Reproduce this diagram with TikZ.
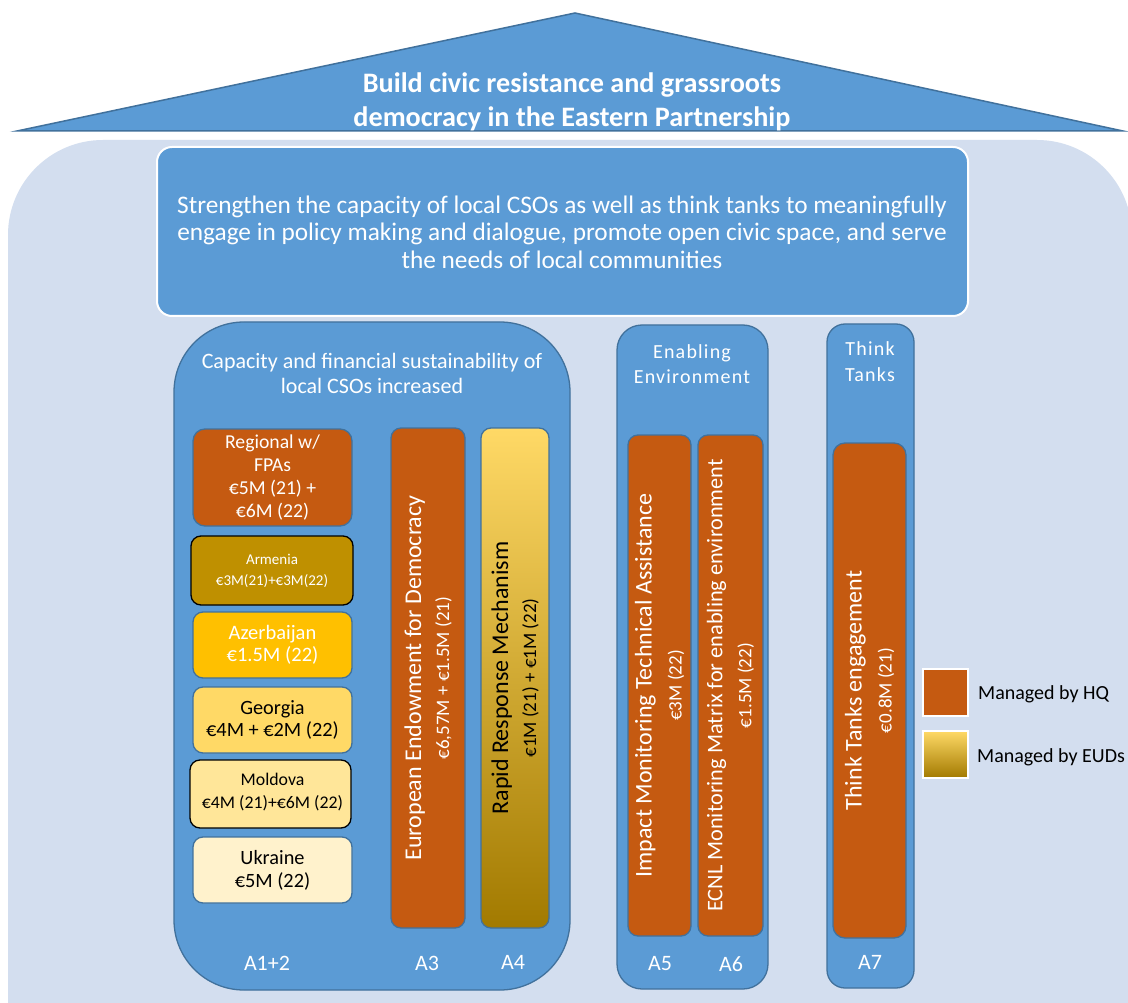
\documentclass[tikz,border=0pt]{standalone}
\usepackage{fontspec}
\setmainfont{Carlito}
\newfontfamily\spacedfont[LetterSpace=6]{Carlito}
\definecolor{blu}{HTML}{5B9BD5}
\definecolor{bord}{HTML}{41719C}
\definecolor{bgc}{HTML}{D3DEEF}
\definecolor{org}{HTML}{C55A11}
\definecolor{dgold}{HTML}{BF9000}
\definecolor{gold}{HTML}{FFC000}
\definecolor{yel}{HTML}{FFD966}
\definecolor{lyel}{HTML}{FFE699}
\definecolor{pale}{HTML}{FFF2CC}
\definecolor{olive}{HTML}{A27A00}
\newcommand{\fs}[2]{\fontsize{#1}{#2}\selectfont}
\begin{document}
\begin{tikzpicture}[x=1pt,y=-1pt,
  rbox/.style={anchor=north west, inner sep=0pt, outer sep=0pt, line width=1.3pt},
  panel/.style={rbox, fill=blu, draw=bord},
  txt/.style={align=center, inner sep=0pt},
  wtxt/.style={txt, text=white},
  alabel/.style={wtxt, font=\fs{22}{24}},
  eudshade/.style={top color=yel, middle color=gold, bottom color=olive}
]
\useasboundingbox (0,0) rectangle (1128,1003);
\fill[white] (0,0) rectangle (1128,1003);
% background
\fill[bgc, rounded corners=95] (8,140) rectangle (1132,1100);
% roof
\draw[fill=blu, draw=bord, line width=1.5pt] (575,13) -- (1123,131) -- (17,131) -- cycle;
\node[wtxt, font=\bfseries\fs{28.2}{34}] (goal) at (572,102) {Build civic resistance and grassroots\\democracy in the Eastern Partnership};
% objective box
\node[rbox, fill=blu, draw=white, line width=2pt, rounded corners=15, minimum width=811pt, minimum height=169pt] (obj) at (157,147) {};
\node[wtxt, font=\fs{25.3}{27.5}] (objt) at (562,232) {Strengthen the capacity of local CSOs as well as think tanks to meaningfully\\engage in policy making and dialogue, promote open civic space, and serve\\the needs of local communities};
% left panel
\node[panel, rounded corners=70, minimum width=396pt, minimum height=668pt] (p1) at (174,322) {};
\node[wtxt, font=\fs{22}{25}] (p1t) at (372,373) {Capacity and financial sustainability of\\local CSOs increased};
% left boxes
\node[rbox, fill=org, draw=bord, rounded corners=12, minimum width=159pt, minimum height=97pt] (reg) at (193,429) {};
\node[wtxt, font=\fs{19.7}{23.2}] at (reg.center) {Regional w/\\FPAs\\€5M (21) +\\€6M (22)};
\node[rbox, fill=dgold, draw=black, rounded corners=10, minimum width=162pt, minimum height=69pt] (arm) at (191,536) {};
\node[wtxt, font=\fs{15}{21}] at (arm.center) {Armenia\\€3M(21)+€3M(22)};
\node[rbox, fill=gold, draw=bord, rounded corners=10, minimum width=159pt, minimum height=66pt] (aze) at (193,612) {};
\node[wtxt, font=\fs{20.5}{22.5}] at (aze.center) {Azerbaijan\\€1.5M (22)};
\node[rbox, fill=yel, draw=bord, rounded corners=10, minimum width=159pt, minimum height=66pt] (geo) at (193,687) {};
\node[txt, font=\fs{20.3}{22}] at (geo.center) {Georgia\\€4M + €2M (22)};
\node[rbox, fill=lyel, draw=black, rounded corners=10, minimum width=161pt, minimum height=68pt] (mol) at (190,760) {};
\node[txt, font=\fs{17.8}{23}] at ([xshift=2pt,yshift=2pt]mol.center) {Moldova\\€4M (21)+€6M (22)};
\node[rbox, fill=pale, draw=bord, rounded corners=10, minimum width=159pt, minimum height=66pt] (ukr) at (193,837) {};
\node[txt, font=\fs{20.3}{23}] at (ukr.center) {Ukraine\\€5M (22)};
% A3, A4
\node[rbox, fill=org, draw=bord, rounded corners=10, minimum width=74pt, minimum height=500pt] (a3) at (391,428) {};
\node[wtxt, rotate=90, font=\fs{19}{28}] at (a3.center) {\fs{24}{28}European Endowment for Democracy\\\fs{19}{28}€6,57M + €1.5M (21)};
\node[rbox, eudshade, draw=bord, rounded corners=10, minimum width=68pt, minimum height=500pt] (a4) at (481,428) {};
\node[txt, rotate=90, font=\fs{19}{28}] at (a4.center) {\fs{24}{28}Rapid Response Mechanism\\\fs{19}{28}€1M (21) + €1M (22)};
\node[alabel] (l12) at (267,963) {A1+2};
\node[alabel] (l3) at (427,963) {A3};
\node[alabel] (l4) at (513,962) {A4};
% Enabling environment
\node[panel, rounded corners=25, minimum width=151pt, minimum height=664pt] (p2) at (617,325) {};
\node[wtxt, font=\spacedfont\fs{20}{25}] (p2t) at (692,364) {Enabling\\Environment};
\node[rbox, fill=org, draw=bord, rounded corners=10, minimum width=63pt, minimum height=501pt] (a5) at (628,435) {};
\node[wtxt, rotate=90, font=\fs{19}{30}] at (a5.center) {\fs{24}{30}Impact Monitoring Technical Assistance\\\fs{19}{30}€3M (22)};
\node[rbox, fill=org, draw=bord, rounded corners=10, minimum width=65pt, minimum height=501pt] (a6) at (698,435) {};
\node[wtxt, rotate=90, font=\fs{19}{29}] at (a6.center) {\fs{22.3}{29}ECNL Monitoring Matrix for enabling environment\\\fs{19}{29}€1.5M (22)};
\node[alabel] (l5) at (660,964) {A5};
\node[alabel] (l6) at (731,964) {A6};
% Think tanks
\node[panel, rounded corners=18, minimum width=87pt, minimum height=664pt] (p3) at (827,324) {};
\node[wtxt, font=\spacedfont\fs{20}{26}] (p3t) at (870,362) {Think\\Tanks};
\node[rbox, fill=org, draw=bord, rounded corners=12, minimum width=73pt, minimum height=495pt] (a7) at (833,443) {};
\node[wtxt, rotate=90, font=\fs{19}{30}] at (a7.center) {\fs{24}{30}Think Tanks engagement\\\fs{19}{30}€0.8M (21)};
\node[alabel] (l7) at (870,962) {A7};
% legend
\node[rbox, fill=org, draw=white, line width=1.5pt, minimum width=45pt, minimum height=47pt] (lhq) at (923,669) {};
\node[txt, anchor=west, font=\fs{20}{22}] (lhqt) at (978,694) {Managed by HQ};
\node[rbox, eudshade, draw=white, line width=1.5pt, minimum width=45pt, minimum height=47pt] (leu) at (923,731) {};
\node[txt, anchor=west, font=\fs{20}{22}] (leut) at (977,757) {Managed by EUDs};
\end{tikzpicture}
\end{document}
